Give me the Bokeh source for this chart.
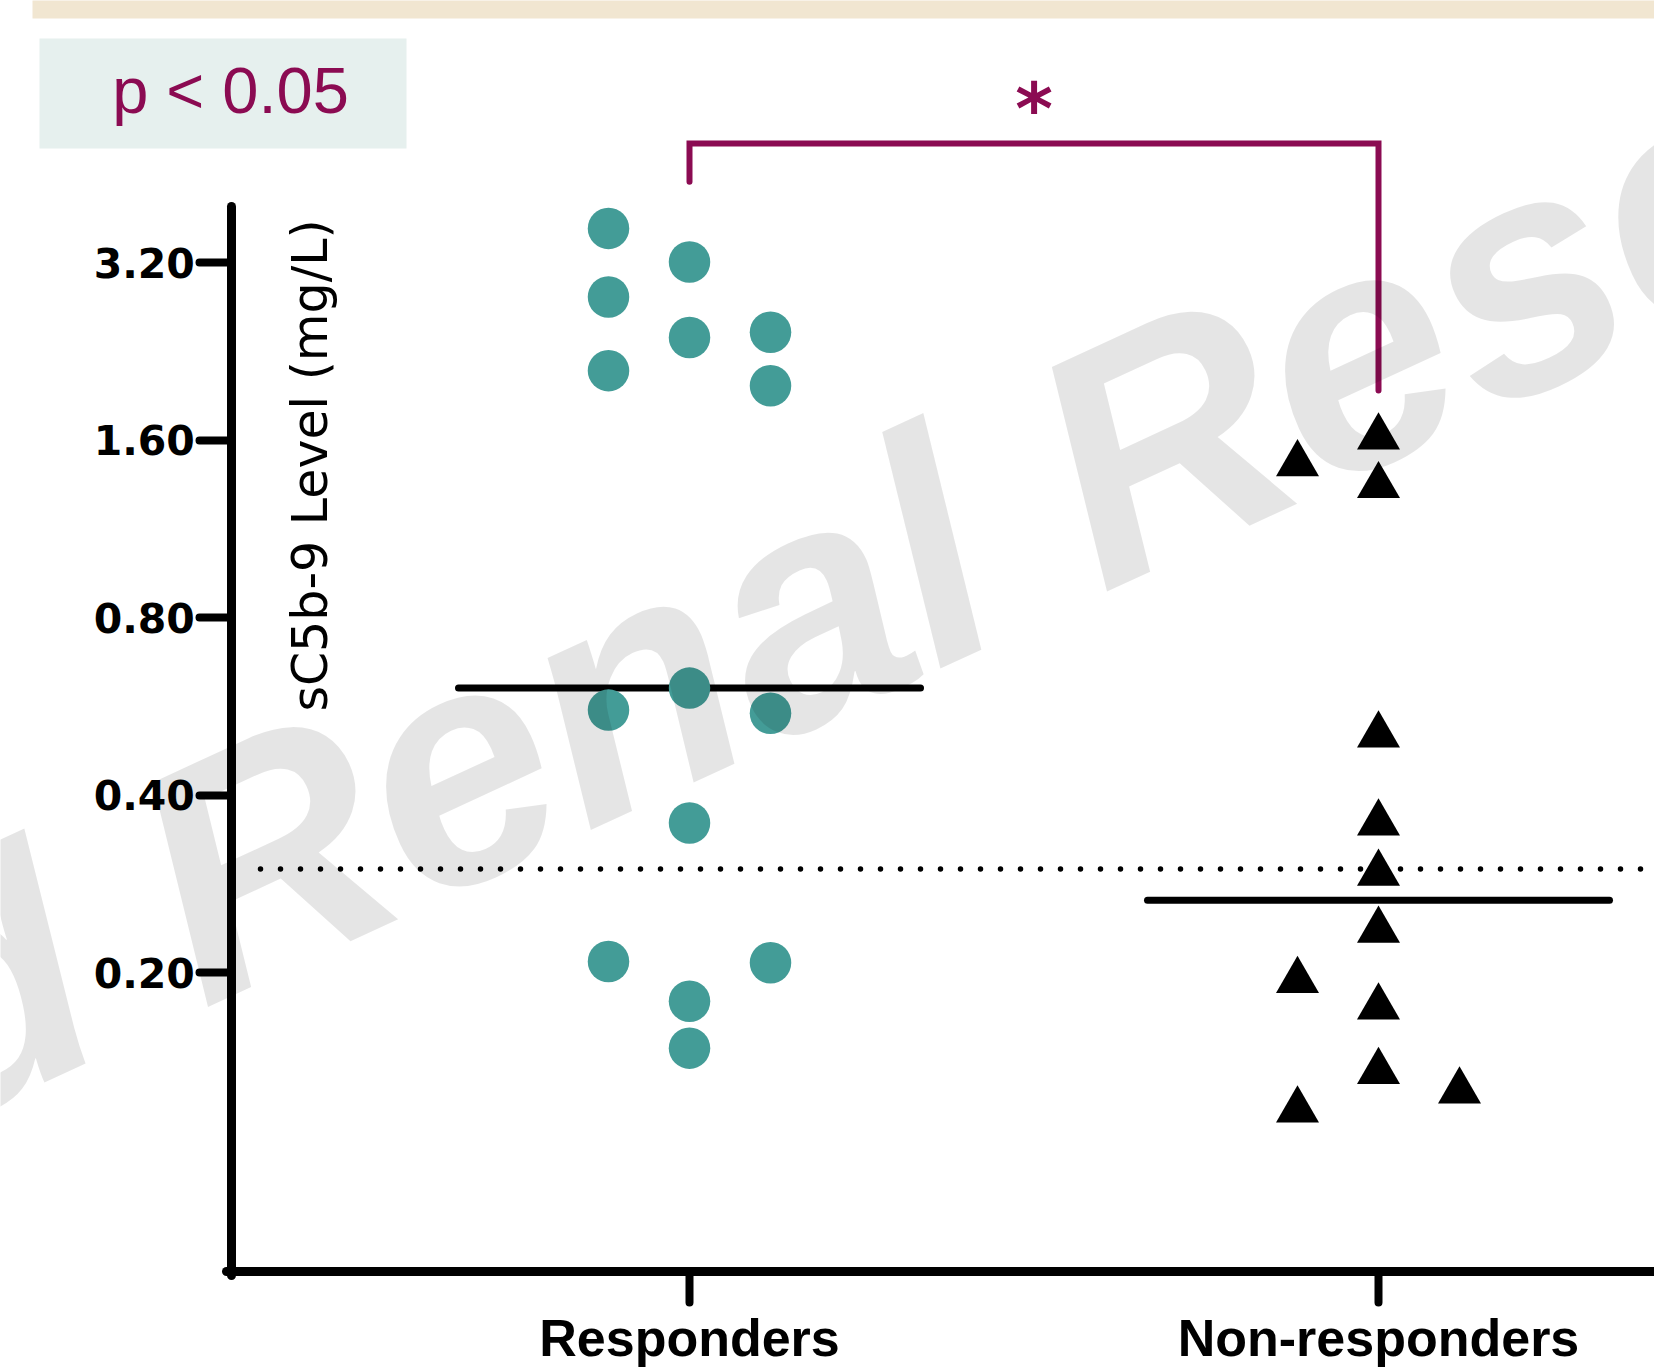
import math
import numpy as np
from bokeh.plotting import figure
from bokeh.models import Range1d, FixedTicker, Label
from bokeh.core.properties import value
from bokeh.embed import file_html
from bokeh.resources import INLINE

# ---------------- data ----------------
categories = ["Responders", "Non-responders"]
responders = [3.66, 3.21, 2.80, 2.44, 2.39, 2.10, 1.98, 0.608, 0.558, 0.551,
              0.359, 0.209, 0.208, 0.179, 0.149]
responders_column = [-1, 0, -1, 1, 0, -1, 1, 0, -1, 1, 0, -1, 1, 0, 0]
non_responders = [1.62, 1.46, 1.34, 0.506, 0.359, 0.295, 0.236, 0.194, 0.175,
                  0.136, 0.126, 0.117]
non_responders_column = [0, -1, 0, 0, 0, 0, 0, -1, 0, 0, 1, -1]
threshold = 0.30
y_ticks = [0.2, 0.4, 0.8, 1.6, 3.2]
y_tick_labels = ["0.20", "0.40", "0.80", "1.60", "3.20"]
p_text = "p < 0.05"
star_text = "*"
y_label = "sC5b-9 Level (mg/L)"
watermark = "d Renal Research"

# ---------------- layout constants (canvas pixels) ----------------
W, H = 1654, 1367
CAT0_PX, CAT_STEP_PX = 689.0, 689.0          # canvas x of 1st category, spacing
REF_PX, REF_VAL, DOUBLING_PX = 262.3, 3.2, 177.5
JITTER = 81.0 / CAT_STEP_PX
HALF_MEDIAN = 231.0 / CAT_STEP_PX

TEAL = "#439C97"
MAROON = "#8B0B52"


def X(px):
    return 1 + (px - CAT0_PX) / CAT_STEP_PX


def Y(py):
    return REF_VAL * 2 ** ((REF_PX - py) / DOUBLING_PX)


p = figure(width=W, height=H, x_range=Range1d(X(0), X(W)),
           y_range=Range1d(Y(H), Y(0)), y_axis_type="log",
           output_backend="svg", toolbar_location=None, title=None,
           min_border=0, min_border_left=0, min_border_right=0,
           min_border_top=0, min_border_bottom=0)
p.outline_line_color = None
p.grid.visible = False
p.background_fill_color = "white"
p.border_fill_color = "white"

# header band and p-value box
p.quad(left=[X(32)], right=[X(W + 40)], top=[Y(-40)], bottom=[Y(18)],
       fill_color="#F1E6D1", line_color=None)
p.quad(left=[X(39)], right=[X(406)], top=[Y(38)], bottom=[Y(148)],
       fill_color="#E6F0EE", line_color=None)
p.text(x=[X(230)], y=[Y(90)], text=[p_text], text_font=value("Liberation Sans"),
       text_font_size="65px", text_color=MAROON, text_align="center",
       text_baseline="alphabetic")

# significance bracket
x_r, x_n = 1, 2
p.line(x=[x_r, x_r, x_n, x_n],
       y=[max(responders) * 1.2, Y(143), Y(143), max(non_responders) * 1.2],
       line_color=MAROON, line_width=6, line_cap="round", line_join="miter")
p.text(x=[(x_r + x_n) / 2], y=[Y(108)], text=[star_text],
       text_font=value("DejaVu Sans"), text_font_style="bold",
       text_font_size="72px", text_color=MAROON, text_align="center",
       text_baseline="alphabetic")

# threshold dotted line
p.line(x=[X(260), X(W + 30)], y=[threshold, threshold], line_color="black",
       line_width=5.5, line_dash="0 20", line_cap="round")

# median lines
for i, vals in enumerate([responders, non_responders]):
    xc = i + 1
    med = float(np.median(vals))
    p.line(x=[xc - HALF_MEDIAN, xc + HALF_MEDIAN], y=[med, med],
           line_color="black", line_width=7, line_cap="round")

# points
p.scatter(x=[1 + c * JITTER for c in responders_column], y=responders,
          marker="circle", size=41.5, fill_color=TEAL, line_color=None)
p.scatter(x=[2 + c * JITTER for c in non_responders_column], y=non_responders,
          marker="triangle", size=43, fill_color="black", line_color=None)

# watermark on top
p.text(x=[X(-112)], y=[Y(1028)], text=[watermark], angle=math.radians(24.8),
       text_font=value("Liberation Sans"), text_font_style="bold italic",
       text_font_size="330px", text_color="black", text_alpha=0.1,
       text_align="left", text_baseline="alphabetic")

# y axis
yax = p.yaxis[0]
yax.fixed_location = X(231.3)
yax.bounds = (Y(1275), Y(206))
yax.ticker = FixedTicker(ticks=y_ticks, minor_ticks=[])
yax.major_label_overrides = {t: l for t, l in zip(y_ticks, y_tick_labels)}
yax.axis_line_width = 9
yax.axis_line_cap = "round"
yax.major_tick_line_width = 8
yax.major_tick_line_cap = "round"
yax.major_tick_out = 32
yax.major_tick_in = 0
yax.minor_tick_line_color = None
yax.major_label_text_font = "DejaVu Sans"
yax.major_label_text_font_style = "bold"
yax.major_label_text_font_size = "41px"
yax.major_label_text_color = "black"
yax.major_label_standoff = 5

# x axis
xax = p.xaxis[0]
xax.fixed_location = Y(1271)
xax.bounds = (X(226), X(W + 40))
xax.ticker = FixedTicker(ticks=[i + 1 for i in range(len(categories))], minor_ticks=[])
xax.major_label_overrides = {i + 1: c for i, c in enumerate(categories)}
xax.axis_line_width = 9
xax.axis_line_cap = "round"
xax.major_tick_line_width = 8
xax.major_tick_line_cap = "round"
xax.major_tick_out = 31
xax.major_tick_in = 0
xax.minor_tick_line_color = None
xax.major_label_text_font = "Liberation Sans"
xax.major_label_text_font_style = "bold"
xax.major_label_text_font_size = "52px"
xax.major_label_text_color = "black"
xax.major_label_standoff = 6

# y axis title, inside the plot
p.add_layout(Label(x=X(310), y=Y(465), text=y_label, angle=math.pi / 2,
                   text_align="center", text_baseline="middle",
                   text_font="DejaVu Sans", text_font_size="49px",
                   text_color="black"))

open("out.html", "w").write(file_html(p, INLINE))
